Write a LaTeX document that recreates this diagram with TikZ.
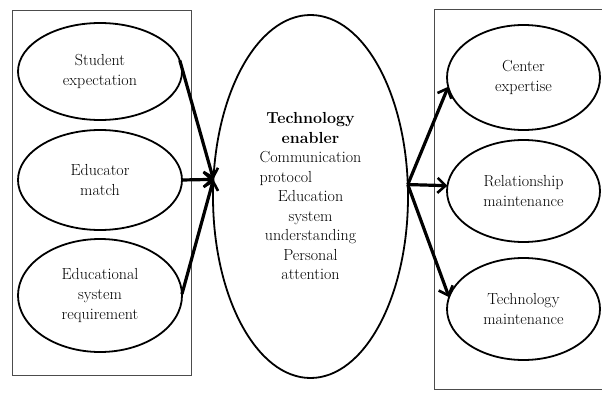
\documentclass[tikz,border=0pt]{standalone}
\usetikzlibrary{shapes.geometric,arrows.meta}
\begin{document}
\begin{tikzpicture}[x=1pt,y=-1pt,
  oval/.style={ellipse,draw,line width=1.8pt,inner sep=0pt,outer sep=0pt,align=center,
    font=\fontsize{16}{20}\selectfont},
  frame/.style={draw=black!70,line width=0.8pt},
  conn/.style={line width=3.2pt,-{Straight Barb[length=8pt,width=15pt,line width=2.6pt]}}]
\useasboundingbox (0,0) rectangle (602,393);
\draw[frame] (12,10) rectangle (191,375);
\draw[frame] (605,9) -- (434,9) -- (434,389) -- (605,389);
% left ovals
\node[oval,minimum width=164pt,minimum height=97pt] (se) at (100,71.5) {Student\\expectation};
\node[oval,minimum width=164pt,minimum height=100pt] (em) at (100,180) {Educator\\match};
\node[oval,minimum width=164pt,minimum height=113pt] (esr) at (100,295.5) {Educational\\system\\requirement};
% centre oval
\node[oval,minimum width=195pt,minimum height=363pt,font=\fontsize{16}{19.5}\selectfont] (ce) at (310.5,196.5)
  {\textbf{Technology}\\\textbf{enabler}\\Communication\\\rlap{protocol}\hphantom{Communication}\\Education\\system\\understanding\\Personal\\attention};
% right ovals
\node[oval,minimum width=153pt,minimum height=105pt] (cx) at (523.5,77.5) {Center\\expertise};
\node[oval,minimum width=153pt,minimum height=102pt] (rm) at (523.5,191) {Relationship\\maintenance};
\node[oval,minimum width=153pt,minimum height=102pt] (tm) at (523.5,309) {Technology\\maintenance};
% connectors
\coordinate (inL) at (ce.170);
\coordinate (outR) at (ce.7);
\draw[conn] (se.8) -- (inL);
\draw[conn] (em.east) -- (inL);
\draw[conn] (esr.1) -- (inL);
\draw[conn] (outR) -- (cx.187);
\draw[conn] (outR) -- (rm.176);
\draw[conn] (outR) -- (tm.171);
\end{tikzpicture}
\end{document}
